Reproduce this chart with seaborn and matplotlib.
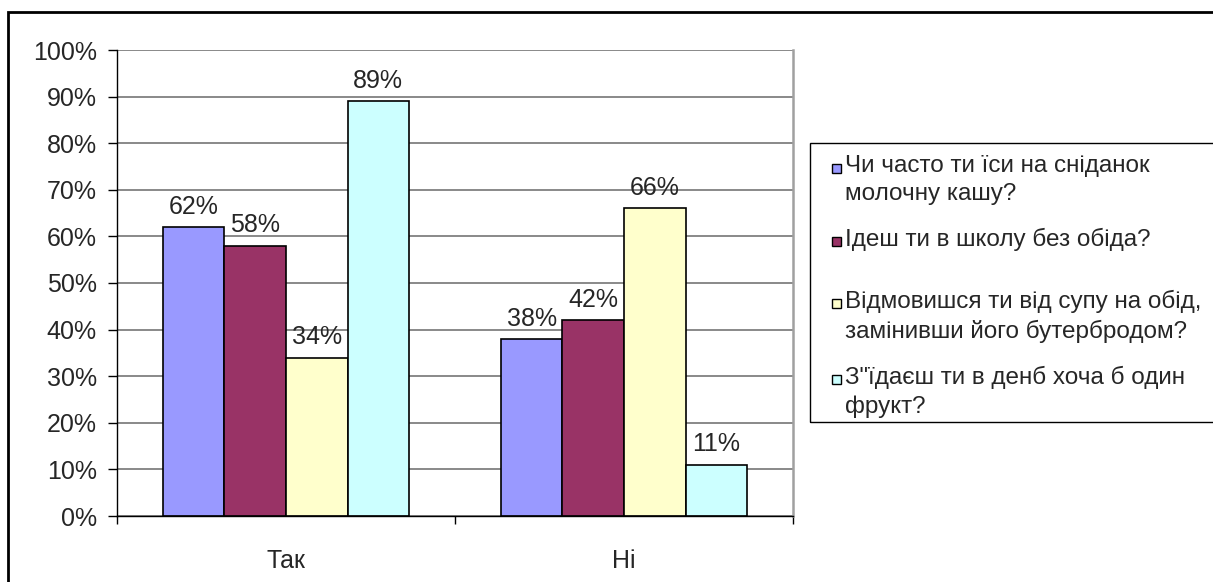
import numpy as np
import pandas as pd
import seaborn as sns
import matplotlib.pyplot as plt
from matplotlib.patches import Rectangle
from matplotlib.ticker import MultipleLocator, FixedLocator, FuncFormatter

answers = ['Так', 'Ні']
questions = ['Чи часто ти їси на сніданок\nмолочну кашу?',
             'Ідеш ти в школу без обіда?',
             'Відмовишся ти від супу на обід,\nзамінивши його бутербродом?',
             'З"їдаєш ти в денб хоча б один\nфрукт?']
yes_values = [62, 58, 34, 89]
no_values = [38, 42, 66, 11]
colors = ['#9999FF', '#993366', '#FFFFCC', '#CCFFFF']

df = pd.DataFrame({'answer': np.repeat(answers, len(questions)),
                   'question': questions * len(answers),
                   'pct': yes_values + no_values})

sns.set_style('white')
plt.rcParams['font.family'] = ['Liberation Sans', 'DejaVu Sans']
fs = 18

W, H = 1213, 582
fig = plt.figure(figsize=(W / 100, H / 100), dpi=100)
ax = fig.add_axes([117 / W, 1 - 516 / H, (793 - 117) / W, (516 - 50) / H])

sns.barplot(data=df, x='answer', y='pct', hue='question', order=answers, hue_order=questions,
            palette=colors, saturation=1, width=0.728, gap=0, edgecolor='black',
            linewidth=1.2, legend=False, ax=ax)

for cont in ax.containers:
    ax.bar_label(cont, fmt='%.0f%%', padding=6, fontsize=fs)

ax.set_xlim(-0.5, 1.5)
ax.set_ylim(0, 100)
ax.yaxis.set_major_locator(MultipleLocator(10))
ax.yaxis.set_major_formatter(FuncFormatter(lambda v, p: f'{v:.0f}%'))
ax.grid(axis='y', color='#808080', linewidth=1.3)
ax.set_axisbelow(True)
ax.set_xlabel('')
ax.set_ylabel('')

ax.spines['top'].set_visible(False)
ax.spines['right'].set_color('#A0A0A0')
ax.spines['right'].set_linewidth(1.8)
for s in ['left', 'bottom']:
    ax.spines[s].set_color('black')
    ax.spines[s].set_linewidth(1.0)

ax.tick_params(axis='y', direction='out', length=6.5, width=1, color='black', labelsize=fs, pad=8, left=True)
ax.xaxis.set_minor_locator(FixedLocator([-0.5, 0.5, 1.5]))
ax.tick_params(axis='x', which='major', length=0, labelsize=fs, pad=24)
ax.tick_params(axis='x', which='minor', direction='out', length=6, width=1, color='black', bottom=True)

# outer frame of the embedded chart
fig.add_artist(Rectangle((8 / W, -0.05), 1.2, 1 - 12 / H + 0.05, transform=fig.transFigure,
                         fill=False, edgecolor='black', linewidth=2))

# legend box
fig.add_artist(Rectangle((810 / W, 1 - 422 / H), 0.5, (422 - 143) / H, transform=fig.transFigure,
                         fill=False, edgecolor='black', linewidth=1))
legend_rows = [168, 241, 303, 379]
for q, c, row in zip(questions, colors, legend_rows):
    fig.add_artist(Rectangle((832 / W, 1 - (row + 5) / H), 9 / W, 9 / H, transform=fig.transFigure,
                             facecolor=c, edgecolor='black', linewidth=1))
    fig.text(845 / W, 1 - (row - 13) / H, q, fontsize=17.5, va='top', ha='left', linespacing=1.38)

fig.savefig('out.png', dpi=100)
